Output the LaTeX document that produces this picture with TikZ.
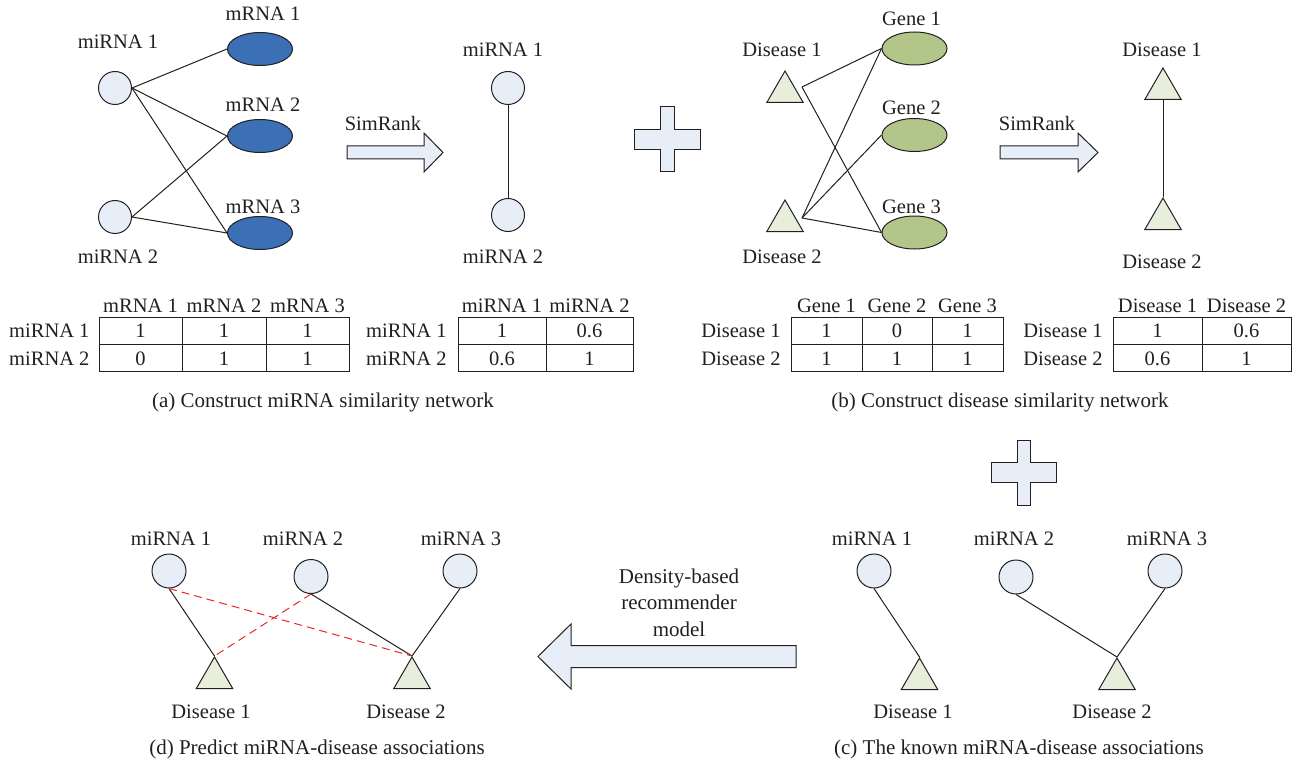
\documentclass[tikz,border=0pt]{standalone}
\usepackage{fontspec}
\setmainfont{Liberation Serif}
\usetikzlibrary{shapes.geometric}

\definecolor{cellblue}{HTML}{E7EEF7}
\definecolor{mrnablue}{HTML}{3B6FB6}
\definecolor{genegreen}{HTML}{B3C68A}
\definecolor{trigreen}{HTML}{E8EEDC}
\definecolor{predred}{HTML}{E8292B}
\definecolor{inkline}{HTML}{231F20}

\begin{document}
\begin{tikzpicture}[x=1pt,y=-1pt,line width=1pt,
	every node/.style={font=\fontsize{20.5}{24}\selectfont,text=inkline},
	lbl/.style={anchor=base,inner sep=0pt},
	caption/.style={anchor=base,inner sep=0pt,font=\fontsize{21}{25}\selectfont},
	mirna/.style={circle,draw=inkline,fill=cellblue,minimum size=33pt,inner sep=0pt},
	mrna/.style={ellipse,draw=inkline,fill=mrnablue,minimum width=65pt,minimum height=33pt,inner sep=0pt},
	gene/.style={mrna,fill=genegreen},
	dis/.style={regular polygon,regular polygon sides=3,draw=inkline,fill=trigreen,minimum size=42pt,inner sep=0pt},
	link/.style={draw=inkline},
	pred/.style={draw=predred,dash pattern=on 8pt off 5pt},
	bigshape/.style={draw=inkline,fill=cellblue}]
		\useasboundingbox (0,0) rectangle (1296,765);

		% (a) miRNA--mRNA network
		\node[mirna] (a1) at (115,88) {};
		\node[mirna] (a2) at (115,217) {};
		\node[lbl] (a1t) at (118,49) {miRNA 1};
		\node[lbl] (a2t) at (118,263) {miRNA 2};
		\node[mrna] (r1) at (260,49) {};
		\node[mrna] (r2) at (260,136) {};
		\node[mrna] (r3) at (260,233) {};
		\node[lbl] (r1t) at (263,21) {mRNA 1};
		\node[lbl] (r2t) at (263,112) {mRNA 2};
		\node[lbl] (r3t) at (263,213) {mRNA 3};
		\draw[link] (a1.east) -- (r1.west);
		\draw[link] (a1.east) -- (r2.west);
		\draw[link] (a1.east) -- (r3.west);
		\draw[link] (a2.east) -- (r2.west);
		\draw[link] (a2.east) -- (r3.west);

		\draw[bigshape] (347,146) -- (424,146) -- (424,133) -- (443,152.5)
			-- (424,172) -- (424,159) -- (347,159) -- cycle;
		\node[lbl] (sra) at (383,131) {SimRank};

		\node[mirna] (s1) at (508,88) {};
		\node[mirna] (s2) at (508,215) {};
		\node[lbl] (s1t) at (503,56.5) {miRNA 1};
		\node[lbl] (s2t) at (503,263) {miRNA 2};
		\draw[link] (s1) -- (s2);

		% plus between (a) and (b)
		\draw[bigshape] (660,107) -- (674,107) -- (674,129.5) -- (700,129.5)
			-- (700,149.5) -- (674,149.5) -- (674,172) -- (660,172) -- (660,149.5)
			-- (634,149.5) -- (634,129.5) -- (660,129.5) -- cycle;

		% (a) matrices
		\draw[link] (99,317) rectangle (349,371);
		\draw[link] (99,344) -- (349,344);
		\draw[link] (182,317) -- (182,371);
		\draw[link] (266,317) -- (266,371);
		\foreach \x/\u/\v [count=\i] in {140.5/1/0,224/1/1,307.5/1/1}{
			\node[lbl] (ma\i) at (\x,312) {mRNA \i};
			\node[lbl] (mau\i) at (\x,337) {\u};
			\node[lbl] (mav\i) at (\x,365) {\v};
		}
		\node[lbl,anchor=base east] (mar1) at (90,337) {miRNA 1};
		\node[lbl,anchor=base east] (mar2) at (90,365) {miRNA 2};

		\draw[link] (458,317) rectangle (633,371);
		\draw[link] (458,344) -- (633,344);
		\draw[link] (546,317) -- (546,371);
		\foreach \x/\u/\v [count=\i] in {502/1/0.6,589.5/0.6/1}{
			\node[lbl] (sa\i) at (\x,312) {miRNA \i};
			\node[lbl] (sau\i) at (\x,337) {\u};
			\node[lbl] (sav\i) at (\x,365) {\v};
		}
		\node[lbl,anchor=base east] (sar1) at (447,337) {miRNA 1};
		\node[lbl,anchor=base east] (sar2) at (447,365) {miRNA 2};

		\node[caption] (capa) at (323,407) {(a) Construct miRNA similarity network};

		% (b) disease--gene network
		\node[dis] (d1) at (785,92) {};
		\node[dis] (d2) at (785,221) {};
		\node[lbl] (d1t) at (782,57) {Disease 1};
		\node[lbl] (d2t) at (782,263) {Disease 2};
		\node[gene] (g1) at (914.5,48.5) {};
		\node[gene] (g2) at (914.5,135) {};
		\node[gene] (g3) at (914.5,232.5) {};
		\node[lbl] (g1t) at (911.5,26) {Gene 1};
		\node[lbl] (g2t) at (911.5,115) {Gene 2};
		\node[lbl] (g3t) at (911.5,213) {Gene 3};
		\coordinate (d1r) at (802,87);
		\coordinate (d2r) at (802,218);
		\draw[link] (d1r) -- (g1.west);
		\draw[link] (d1r) -- (g3.west);
		\draw[link] (d2r) -- (g1.west);
		\draw[link] (d2r) -- (g2.west);
		\draw[link] (d2r) -- (g3.west);

		\draw[bigshape] (1000,146) -- (1078,146) -- (1078,133) -- (1098,152.5)
			-- (1078,172) -- (1078,159) -- (1000,159) -- cycle;
		\node[lbl] (srb) at (1037,131) {SimRank};

		\node[dis] (e1) at (1163,89) {};
		\node[dis] (e2) at (1163,219) {};
		\node[lbl] (e1t) at (1162,57) {Disease 1};
		\node[lbl] (e2t) at (1162,268) {Disease 2};
		\draw[link] (e2.corner 1) -- (e1.south);

		% (b) matrices
		\draw[link] (791,317) rectangle (1003,371);
		\draw[link] (791,344) -- (1003,344);
		\draw[link] (862,317) -- (862,371);
		\draw[link] (932,317) -- (932,371);
		\foreach \x/\u/\v [count=\i] in {826.5/1/1,897/0/1,967.5/1/1}{
			\node[lbl] (mb\i) at (\x,312) {Gene \i};
			\node[lbl] (mbu\i) at (\x,337) {\u};
			\node[lbl] (mbv\i) at (\x,365) {\v};
		}
		\node[lbl,anchor=base east] (mbr1) at (781,337) {Disease 1};
		\node[lbl,anchor=base east] (mbr2) at (781,365) {Disease 2};

		\draw[link] (1113,317) rectangle (1291,371);
		\draw[link] (1113,344) -- (1291,344);
		\draw[link] (1202,317) -- (1202,371);
		\foreach \x/\u/\v [count=\i] in {1157.5/1/0.6,1246.5/0.6/1}{
			\node[lbl] (sb\i) at (\x,312) {Disease \i};
			\node[lbl] (sbu\i) at (\x,337) {\u};
			\node[lbl] (sbv\i) at (\x,365) {\v};
		}
		\node[lbl,anchor=base east] (sbr1) at (1103,337) {Disease 1};
		\node[lbl,anchor=base east] (sbr2) at (1103,365) {Disease 2};

		\node[caption] (capb) at (1000,407) {(b) Construct disease similarity network};

		% plus between (b) and (c)
		\draw[bigshape] (1017,440) -- (1030,440) -- (1030,462) -- (1056,462)
			-- (1056,482) -- (1030,482) -- (1030,505) -- (1017,505) -- (1017,482)
			-- (991,482) -- (991,462) -- (1017,462) -- cycle;

		% (c) known associations
		\node[mirna,minimum size=34pt] (c1) at (874,571) {};
		\node[mirna,minimum size=34pt] (c2) at (1016,577) {};
		\node[mirna,minimum size=34pt] (c3) at (1165,571) {};
		\node[lbl] (c1t) at (872,545) {miRNA 1};
		\node[lbl] (c2t) at (1014,545) {miRNA 2};
		\node[lbl] (c3t) at (1167,545) {miRNA 3};
		\node[dis] (cd1) at (919.5,679) {};
		\node[dis] (cd2) at (1117,679) {};
		\node[lbl] (cd1t) at (913,718) {Disease 1};
		\node[lbl] (cd2t) at (1112,718) {Disease 2};
		\draw[link] (c1.south) -- (cd1.corner 1);
		\draw[link] (c2.south) -- (cd2.corner 1);
		\draw[link] (c3.south) -- (cd2.corner 1);
		\node[caption] (capc) at (1019,754) {(c) The known miRNA-disease associations};

		% recommender step
		\draw[bigshape] (796,645.5) -- (571,645.5) -- (571,624) -- (538,656.5)
			-- (571,689) -- (571,667.5) -- (796,667.5) -- cycle;
		\node[align=center,anchor=south,inner sep=0pt,font=\fontsize{21}{26.5}\selectfont] (dbr)
			at (679,637) {Density-based\\recommender\\model};

		% (d) predicted associations
		\node[mirna,minimum size=34pt] (p1) at (169,571) {};
		\node[mirna,minimum size=34pt] (p2) at (311,576.5) {};
		\node[mirna,minimum size=34pt] (p3) at (460,571) {};
		\node[lbl] (p1t) at (171,545) {miRNA 1};
		\node[lbl] (p2t) at (303,545) {miRNA 2};
		\node[lbl] (p3t) at (461,545) {miRNA 3};
		\node[dis] (pd1) at (214.5,678) {};
		\node[dis] (pd2) at (412,678) {};
		\node[lbl] (pd1t) at (211,718) {Disease 1};
		\node[lbl] (pd2t) at (406,718) {Disease 2};
		\draw[link] (p1.south) -- (pd1.corner 1);
		\draw[link] (p2.south) -- (pd2.corner 1);
		\draw[link] (p3.south) -- (pd2.corner 1);
		\draw[pred] (p1.south) -- (pd2.corner 1);
		\draw[pred] (p2.south) -- (pd1.corner 1);
		\node[caption] (capd) at (317,754) {(d) Predict miRNA-disease associations};
	\end{tikzpicture}
\end{document}
